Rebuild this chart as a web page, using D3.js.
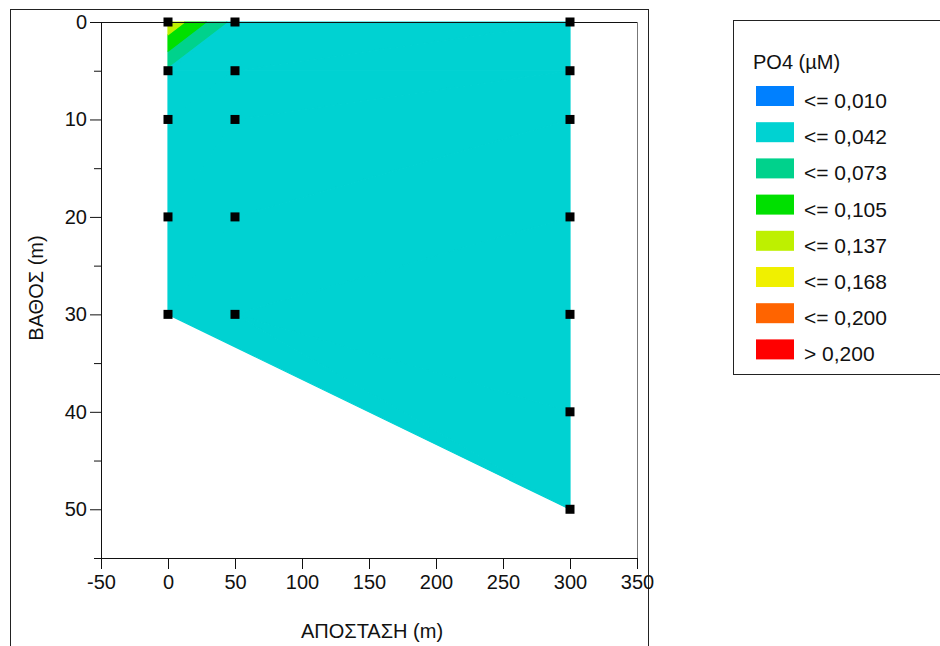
<!DOCTYPE html>
<html>
<head>
<meta charset="utf-8">
<script src="https://cdn.jsdelivr.net/npm/d3@7"></script>
<style>
    body { margin: 0; background: #fff; }
    svg text { font-family: "Liberation Sans", Arial, Helvetica, sans-serif; fill: #111; }
</style>
</head>
<body>
<svg id="chart" width="940" height="646"></svg>
<script>
// stations along the section (m) and the depths sampled at each (m)
const distances = [0, 50, 300];
const depths = [
    [0, 5, 10, 20, 30],
    [0, 5, 10, 20, 30],
    [0, 5, 10, 20, 30, 40, 50]
];
// PO4 (µM) per sample, same layout as depths
const po4 = [
    [0.130, 0.035, 0.030, 0.028, 0.027],
    [0.030, 0.029, 0.028, 0.027, 0.026],
    [0.028, 0.027, 0.026, 0.025, 0.025, 0.024, 0.024]
];

const levels = [0.010, 0.042, 0.073, 0.105, 0.137, 0.168, 0.200];
const levelColors = ["#0080ff", "#00d2d2", "#00d28c", "#00e000", "#bef000", "#f0f000", "#ff6400", "#ff0000"];
const levelLabels = ["<= 0,010", "<= 0,042", "<= 0,073", "<= 0,105", "<= 0,137", "<= 0,168", "<= 0,200", "> 0,200"];

const xTicks = [-50, 0, 50, 100, 150, 200, 250, 300, 350];
const yTicks = [0, 10, 20, 30, 40, 50];
const yMinorTicks = [5, 15, 25, 35, 45, 55];

const svg = d3.select("#chart");

const x = d3.scaleLinear().domain([-50, 350]).range([101, 637]);
const y = d3.scaleLinear().domain([0, 55]).range([22, 558]);

// outer frames
svg.append("rect")
    .attr("x", 10.5).attr("y", 9.5).attr("width", 638).attr("height", 700)
    .attr("fill", "none").attr("stroke", "#222");
svg.append("rect")
    .attr("x", 733.5).attr("y", 20.5).attr("width", 220).attr("height", 354)
    .attr("fill", "none").attr("stroke", "#222");

// samples as objects
const cols = distances.map((dist, i) => depths[i].map((d, j) => ({ x: dist, d: d, v: po4[i][j] })));

// triangulate: zip neighbouring stations into strips
const tris = [];
for (let i = 0; i < cols.length - 1; i++) {
    const L = cols[i], R = cols[i + 1];
    let a = 0, b = 0;
    while (a < L.length - 1 || b < R.length - 1) {
        if (b >= R.length - 1 || (a < L.length - 1 && L[a + 1].d <= R[b + 1].d)) {
            tris.push([L[a], R[b], L[a + 1]]); a++;
        } else {
            tris.push([L[a], R[b], R[b + 1]]); b++;
        }
    }
}
// close the gap under the deepest samples (lower hull)
const bottoms = cols.map(c => c[c.length - 1]);
const hull = [];
bottoms.forEach(p => {
    while (hull.length >= 2) {
        const o = hull[hull.length - 2], q = hull[hull.length - 1];
        const cross = (q.x - o.x) * (p.d - o.d) - (q.d - o.d) * (p.x - o.x);
        if (cross >= 0) hull.pop(); else break;
    }
    hull.push(p);
});
for (let h = 0; h < hull.length - 1; h++) {
    const i0 = bottoms.indexOf(hull[h]), i1 = bottoms.indexOf(hull[h + 1]);
    for (let m = i0 + 1; m < i1; m++) tris.push([bottoms[i0], bottoms[m], bottoms[m + 1]]);
}

// clip a polygon against a level of the linear field
function clip(poly, t, above) {
    const out = [];
    for (let i = 0; i < poly.length; i++) {
        const p = poly[i], q = poly[(i + 1) % poly.length];
        const pin = above ? p.v > t : p.v <= t;
        const qin = above ? q.v > t : q.v <= t;
        if (pin) out.push(p);
        if (pin !== qin) {
            const s = (t - p.v) / (q.v - p.v);
            out.push({ x: p.x + s * (q.x - p.x), d: p.d + s * (q.d - p.d), v: t });
        }
    }
    return out;
}

const bands = [];
tris.forEach(tri => {
    levelColors.forEach((c, i) => {
        let poly = tri;
        if (i > 0) poly = clip(poly, levels[i - 1], true);
        if (i < levels.length) poly = clip(poly, levels[i], false);
        if (poly.length >= 3) bands.push({ poly: poly, color: c, level: i });
    });
});
// paint low bands first so higher bands sit on top of the seams
bands.sort((a, b) => a.level - b.level);

const fills = svg.append("g");
fills.selectAll("path")
    .data(bands)
    .enter()
    .append("path")
    .attr("d", b => "M" + b.poly.map(p => x(p.x) + "," + y(p.d)).join("L") + "Z")
    .attr("fill", b => b.color)
    .attr("stroke", b => b.color)
    .attr("stroke-width", 1.2)
    .attr("stroke-linejoin", "round");

// plot box: top and right edges
svg.append("line")
    .attr("x1", 101).attr("x2", 637.5).attr("y1", 22.5).attr("y2", 22.5)
    .attr("stroke", "#111");
svg.append("line")
    .attr("x1", 637.5).attr("x2", 637.5).attr("y1", 22.5).attr("y2", 558.5)
    .attr("stroke", "#777");

// axes
svg.append("g")
    .attr("transform", "translate(101,0)")
    .call(d3.axisLeft(y).tickValues(yTicks).tickSize(11).tickPadding(3).tickSizeOuter(0)
        .tickFormat(d => String(d)));
svg.append("g")
    .attr("transform", "translate(101,0)")
    .call(d3.axisLeft(y).tickValues(yMinorTicks).tickSize(7).tickFormat("").tickSizeOuter(0))
    .call(g => g.select(".domain").remove());
svg.append("g")
    .attr("transform", "translate(0,558)")
    .call(d3.axisBottom(x).tickValues(xTicks).tickSize(11).tickPadding(6).tickSizeOuter(0)
        .tickFormat(d => String(d)));

svg.selectAll(".tick text")
    .attr("font-family", "Liberation Sans, Arial, sans-serif")
    .attr("font-size", 20);
svg.selectAll(".domain, .tick line").attr("stroke", "#111");

// station samples
const samples = cols.flat();
svg.append("g")
    .selectAll("rect")
    .data(samples)
    .enter()
    .append("rect")
    .attr("x", p => x(p.x) - 4.5)
    .attr("y", p => y(p.d) - 4.5)
    .attr("width", 9)
    .attr("height", 9)
    .attr("fill", "#000");

// axis titles
svg.append("text")
    .attr("x", 372).attr("y", 638)
    .attr("text-anchor", "middle")
    .attr("font-size", 20)
    .text("ΑΠΟΣΤΑΣΗ (m)");
svg.append("text")
    .attr("transform", "translate(43,288) rotate(-90)")
    .attr("text-anchor", "middle")
    .attr("font-size", 20)
    .text("ΒΑΘΟΣ (m)");

// legend
const legend = svg.append("g").attr("transform", "translate(753,0)");
legend.append("text")
    .attr("x", 0).attr("y", 69)
    .attr("font-size", 20)
    .text("PO4 (µM)");
const item = legend.selectAll(".item")
    .data(levelColors)
    .enter()
    .append("g")
    .attr("class", "item")
    .attr("transform", (c, i) => "translate(0," + (i * 36.2) + ")");
item.append("rect")
    .attr("x", 3).attr("y", 86)
    .attr("width", 38).attr("height", 20)
    .attr("fill", c => c);
item.append("text")
    .attr("x", 51).attr("y", 108)
    .attr("font-size", 21)
    .text((c, i) => levelLabels[i]);
</script>
</body>
</html>
